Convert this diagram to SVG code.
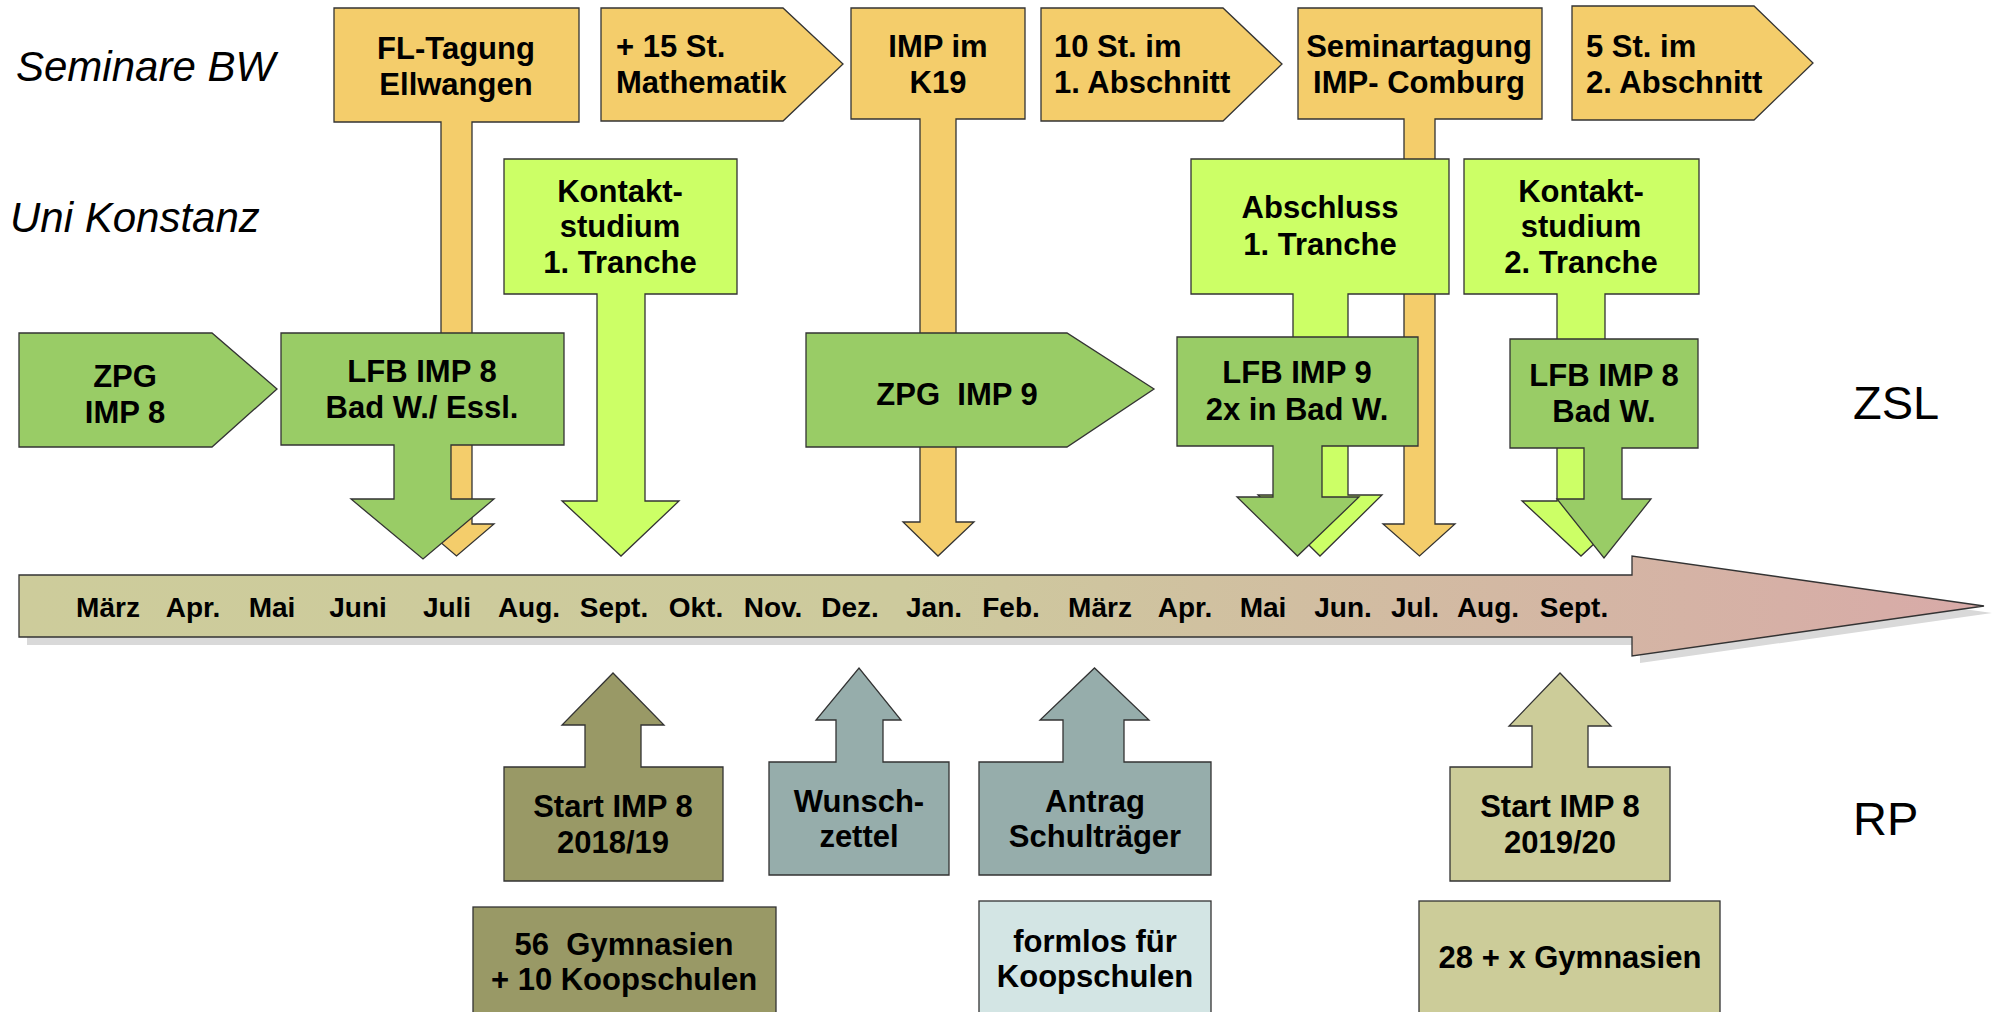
<svg xmlns="http://www.w3.org/2000/svg" width="1996" height="1012" viewBox="0 0 1996 1012">
<defs>
<linearGradient id="tl" x1="19" y1="0" x2="1984" y2="0" gradientUnits="userSpaceOnUse">
<stop offset="0" stop-color="#cdcc9b"/>
<stop offset="0.45" stop-color="#cdca9d"/>
<stop offset="1" stop-color="#d8aaa8"/>
</linearGradient>
</defs>
<style>
.s{stroke:#333;stroke-width:1.3;stroke-linejoin:miter}
.y{fill:#f4cd6b}
.lg{fill:#ccff66}
.mg{fill:#99cc66}
.ol{fill:#999966}
.te{fill:#96adab}
.lt{fill:#d3e5e4}
.kh{fill:#cccc99}
text{font-family:"Liberation Sans",Arial,sans-serif;fill:#000;white-space:pre}
.b{font-size:31px;font-weight:bold}
.c{text-anchor:middle}
.m{font-size:28px;font-weight:bold;text-anchor:middle}
.lab{font-size:42px;font-style:italic}
.big{font-size:47px}
</style>
<rect width="1996" height="1012" fill="#fff"/>

<g id="labels">
<text class="lab" x="16" y="81">Seminare BW</text>
<text class="lab" x="10" y="232">Uni Konstanz</text>
<text class="big" x="1853" y="419">ZSL</text>
<text class="big" x="1853" y="835">RP</text>
</g>

<g id="timeline">
<polygon points="27,582 1640,582 1640,563 1992,613 1640,663 1640,645 27,645" fill="#d9d9d9"/>
<polygon class="s" points="19,575 1632,575 1632,556 1984,606 1632,656 1632,637 19,637" fill="url(#tl)"/>
<text class="m" x="108" y="617">März</text>
<text class="m" x="193" y="617">Apr.</text>
<text class="m" x="272" y="617">Mai</text>
<text class="m" x="358" y="617">Juni</text>
<text class="m" x="447" y="617">Juli</text>
<text class="m" x="529" y="617">Aug.</text>
<text class="m" x="614" y="617">Sept.</text>
<text class="m" x="696" y="617">Okt.</text>
<text class="m" x="773" y="617">Nov.</text>
<text class="m" x="850" y="617">Dez.</text>
<text class="m" x="934" y="617">Jan.</text>
<text class="m" x="1011" y="617">Feb.</text>
<text class="m" x="1100" y="617">März</text>
<text class="m" x="1185" y="617">Apr.</text>
<text class="m" x="1263" y="617">Mai</text>
<text class="m" x="1343" y="617">Jun.</text>
<text class="m" x="1415" y="617">Jul.</text>
<text class="m" x="1488" y="617">Aug.</text>
<text class="m" x="1574" y="617">Sept.</text>
</g>

<g id="connectors"></g>

<g id="fl-tagung">
<polygon class="s y" points="334,8 579,8 579,122 472,122 472,524 494,524 456.5,556 419,524 441,524 441,122 334,122"/>
<text class="b c" x="456" y="59">FL-Tagung</text>
<text class="b c" x="456" y="95">Ellwangen</text>
</g>
<g id="mathematik">
<polygon class="s y" points="601,8 783,8 843,64 783,121 601,121"/>
<text class="b" x="616" y="57">+ 15 St.</text>
<text class="b" x="616" y="93">Mathematik</text>
</g>
<g id="imp-k19">
<polygon class="s y" points="851,8 1025,8 1025,119 956,119 956,522 974,522 938,556 903,522 920,522 920,119 851,119"/>
<text class="b c" x="938" y="57">IMP im</text>
<text class="b c" x="938" y="93">K19</text>
</g>
<g id="abschnitt1">
<polygon class="s y" points="1041,8 1223,8 1282,64 1223,121 1041,121"/>
<text class="b" x="1054" y="57">10 St. im</text>
<text class="b" x="1054" y="93">1. Abschnitt</text>
</g>
<g id="seminartagung">
<polygon class="s y" points="1298,8 1542,8 1542,119 1435,119 1435,524 1455,524 1419.5,556 1383,524 1404,524 1404,119 1298,119"/>
<text class="b c" x="1419" y="57">Seminartagung</text>
<text class="b c" x="1419" y="93">IMP- Comburg</text>
</g>
<g id="abschnitt2">
<polygon class="s y" points="1572,6 1754,6 1813,63 1754,120 1572,120"/>
<text class="b" x="1586" y="57">5 St. im</text>
<text class="b" x="1586" y="93">2. Abschnitt</text>
</g>

<g id="kontakt1">
<polygon class="s lg" points="504,159 737,159 737,294 645,294 645,501 679,501 621,556 562,501 597,501 597,294 504,294"/>
<text class="b c" x="620" y="202">Kontakt-</text>
<text class="b c" x="620" y="237">studium</text>
<text class="b c" x="620" y="273">1. Tranche</text>
</g>
<g id="abschluss">
<polygon class="s lg" points="1191,159 1449,159 1449,294 1348,294 1348,495 1382,495 1320,556 1258,495 1293,495 1293,294 1191,294"/>
<text class="b c" x="1320" y="218">Abschluss</text>
<text class="b c" x="1320" y="255">1. Tranche</text>
</g>
<g id="kontakt2">
<polygon class="s lg" points="1464,159 1699,159 1699,294 1605,294 1605,501 1640,501 1581,556 1522,501 1557,501 1557,294 1464,294"/>
<text class="b c" x="1581" y="202">Kontakt-</text>
<text class="b c" x="1581" y="237">studium</text>
<text class="b c" x="1581" y="273">2. Tranche</text>
</g>

<g id="zpg-imp8">
<polygon class="s mg" points="19,333 212,333 277,389 212,447 19,447"/>
<text class="b c" x="125" y="387">ZPG</text>
<text class="b c" x="125" y="423">IMP 8</text>
</g>
<g id="lfb-imp8-a">
<polygon class="s mg" points="281,333 564,333 564,445 451,445 451,499 494,499 423,559 351,499 394,499 394,445 281,445"/>
<text class="b c" x="422" y="382">LFB IMP 8</text>
<text class="b c" x="422" y="418">Bad W./ Essl.</text>
</g>
<g id="zpg-imp9">
<polygon class="s mg" points="806,333 1067,333 1154,389 1067,447 806,447"/>
<text class="b c" x="957" y="405" xml:space="preserve">ZPG  IMP 9</text>
</g>
<g id="lfb-imp9">
<polygon class="s mg" points="1177,337 1418,337 1418,446 1322,446 1322,497 1359,497 1297.5,556 1237,497 1273,497 1273,446 1177,446"/>
<text class="b c" x="1297" y="383">LFB IMP 9</text>
<text class="b c" x="1297" y="420">2x in Bad W.</text>
</g>
<g id="lfb-imp8-b">
<polygon class="s mg" points="1510,339 1698,339 1698,448 1622,448 1622,499 1651,499 1604,558 1557,499 1584,499 1584,448 1510,448"/>
<text class="b c" x="1604" y="386">LFB IMP 8</text>
<text class="b c" x="1604" y="422">Bad W.</text>
</g>

<g id="start-2018">
<polygon class="s ol" points="504,767 585,767 585,725 562,725 613,673 664,725 641,725 641,767 723,767 723,881 504,881"/>
<text class="b c" x="613" y="817">Start IMP 8</text>
<text class="b c" x="613" y="853">2018/19</text>
</g>
<g id="wunschzettel">
<polygon class="s te" points="769,762 836,762 836,720 816,720 859,668 901,720 883,720 883,762 949,762 949,875 769,875"/>
<text class="b c" x="859" y="812">Wunsch-</text>
<text class="b c" x="859" y="847">zettel</text>
</g>
<g id="antrag">
<polygon class="s te" points="979,762 1063,762 1063,720 1040,720 1094.5,668 1149,720 1124,720 1124,762 1211,762 1211,875 979,875"/>
<text class="b c" x="1095" y="812">Antrag</text>
<text class="b c" x="1095" y="847">Schulträger</text>
</g>
<g id="start-2019">
<polygon class="s kh" points="1450,767 1532,767 1532,726 1509,726 1560,673 1611,726 1588,726 1588,767 1670,767 1670,881 1450,881"/>
<text class="b c" x="1560" y="817">Start IMP 8</text>
<text class="b c" x="1560" y="853">2019/20</text>
</g>
<g id="gymnasien56">
<rect class="s ol" x="473" y="907" width="303" height="110"/>
<text class="b c" x="624" y="955" xml:space="preserve">56  Gymnasien</text>
<text class="b c" x="624" y="990">+ 10 Koopschulen</text>
</g>
<g id="formlos">
<rect class="s lt" x="979" y="901" width="232" height="116"/>
<text class="b c" x="1095" y="952">formlos für</text>
<text class="b c" x="1095" y="987">Koopschulen</text>
</g>
<g id="gymnasien28">
<rect class="s kh" x="1419" y="901" width="301" height="116"/>
<text class="b c" x="1570" y="968">28 + x Gymnasien</text>
</g>
</svg>
